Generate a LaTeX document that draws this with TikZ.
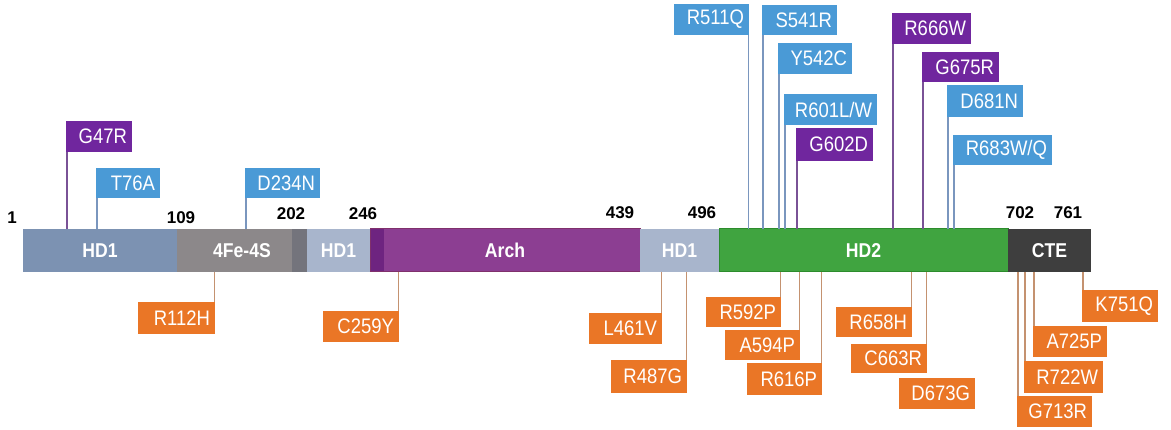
\documentclass[tikz,border=0pt]{standalone}
\usepackage{fontspec}
\setmainfont{Liberation Sans}
\newfontfamily\narrowsf{Liberation Sans}[FakeStretch=0.88]
\definecolor{hdone}{RGB}{124,146,178}
\definecolor{fegray}{RGB}{140,136,138}
\definecolor{fedark}{RGB}{116,116,124}
\definecolor{hdlight}{RGB}{168,181,204}
\definecolor{archc}{RGB}{140,62,146}
\definecolor{archdark}{RGB}{110,36,128}
\definecolor{archedge}{RGB}{128,48,108}
\definecolor{hdtwo}{RGB}{64,164,64}
\definecolor{hdtwoedge}{RGB}{44,140,44}
\definecolor{ctec}{RGB}{62,62,62}
\definecolor{mblue}{RGB}{74,154,214}
\definecolor{mpurple}{RGB}{112,38,158}
\definecolor{morange}{RGB}{234,118,38}
\definecolor{lblue}{RGB}{122,150,190}
\definecolor{lpurple}{RGB}{122,82,150}
\definecolor{lorange}{RGB}{196,146,112}
\newcommand\mutlab[7]{\node[#2,minimum width={#4-#3},minimum height={#6-#5},anchor=north west] (#1) at (#3,#5) {\makebox[\dimexpr #4pt-#3pt-10pt\relax][r]{#7}};}
\begin{document}
\begin{tikzpicture}[x=1pt,y=-1pt,
  seg/.style={anchor=north west, inner sep=0, outer sep=0, minimum height=43, text=white, font=\narrowsf\bfseries\fontsize{20}{22}\selectfont},
  num/.style={font=\bfseries\fontsize{17}{19}\selectfont, inner sep=0},
  mutbox/.style={inner sep=0, outer sep=0, text=white, font=\narrowsf\fontsize{21}{23}\selectfont},
  tb/.style={mutbox, fill=mblue},
  tp/.style={mutbox, fill=mpurple},
  bo/.style={mutbox, fill=morange},
  lb/.style={draw=lblue, line width=1.5},
  lp/.style={draw=lpurple, line width=1.5},
  lo/.style={draw=lorange, line width=1.5}]
\useasboundingbox (0,0) rectangle (1171,430);
\fill[white] (0,0) rectangle (1171,430);
% bar
\node[anchor=north west, inner sep=0, outer sep=0, minimum width=1068, minimum height=43] (bar) at (23,229) {};
\node[seg, fill=hdone, minimum width=154] (hd1a) at (23,229) {HD1};
\node[seg, fill=fegray, minimum width=130] (fes) at (177,229) {\phantom{4Fe-4S}};
\fill[fedark] (292,229) rectangle (307,272);
\node[seg, minimum width=130] (festext) at (177,229) {4Fe-4S};
\node[seg, fill=hdlight, minimum width=63] (hd1b) at (307,229) {HD1};
\node[seg, fill=archc, draw=archedge, line width=1, minimum width=270] (arch) at (370,229) {\phantom{Arch}};
\fill[archdark] (370.5,229.5) rectangle (384,271.5);
\node[seg, minimum width=270] (archtext) at (370,229) {Arch};
\node[seg, fill=hdlight, minimum width=79] (hd1c) at (640,229) {HD1};
\node[seg, fill=hdtwo, draw=hdtwoedge, line width=1, minimum width=289] (hd2) at (719,229) {HD2};
\node[seg, fill=ctec, minimum width=83] (cte) at (1008,229) {CTE};
% numbers
\node[num] (n1) at (12,217.5) {1};
\node[num] (n109) at (181,217.5) {109};
\node[num] (n202) at (291,213.5) {202};
\node[num] (n246) at (363,213.5) {246};
\node[num] (n439) at (620,213) {439};
\node[num] (n496) at (702,213) {496};
\node[num] (n702) at (1020,213) {702};
\node[num] (n761) at (1068,213) {761};
% top labels
\mutlab{g47r}{tp}{66}{132}{121}{152}{G47R}
\mutlab{t76a}{tb}{96}{160}{168}{198}{T76A}
\mutlab{d234n}{tb}{245}{320}{168}{198}{D234N}
\mutlab{r511q}{tb}{674}{749}{4}{35}{R511Q}
\mutlab{s541r}{tb}{762}{837}{5}{35}{S541R}
\mutlab{y542c}{tb}{778}{852}{43}{74}{Y542C}
\mutlab{r601lw}{tb}{784}{877}{94}{125}{R601L/W}
\mutlab{g602d}{tp}{796}{873}{128}{161}{G602D}
\mutlab{r666w}{tp}{892}{971}{13}{44}{R666W}
\mutlab{g675r}{tp}{922}{999}{52}{82}{G675R}
\mutlab{d681n}{tb}{947}{1023}{85}{117}{D681N}
\mutlab{r683wq}{tb}{953}{1052}{135}{165}{R683W/Q}
% bottom labels
\mutlab{r112h}{bo}{138}{215}{302}{334}{R112H}
\mutlab{c259y}{bo}{323}{399}{311}{342}{C259Y}
\mutlab{l461v}{bo}{589}{662}{313}{344}{L461V}
\mutlab{r487g}{bo}{611}{687}{360}{393}{R487G}
\mutlab{r592p}{bo}{706}{781}{297}{327}{R592P}
\mutlab{a594p}{bo}{725}{800}{330}{360}{A594P}
\mutlab{r616p}{bo}{747}{822}{363}{395}{R616P}
\mutlab{r658h}{bo}{836}{912}{307}{337}{R658H}
\mutlab{c663r}{bo}{851}{927}{344}{373}{C663R}
\mutlab{d673g}{bo}{899}{975}{378}{409}{D673G}
\mutlab{k751q}{bo}{1082}{1158}{290}{322}{K751Q}
\mutlab{a725p}{bo}{1033}{1107}{326}{357}{A725P}
\mutlab{r722w}{bo}{1024}{1103}{361}{393}{R722W}
\mutlab{g713r}{bo}{1017}{1092}{396}{427}{G713R}
% top connectors
\draw[lp] ([xshift=0.75]g47r.south west) -- ([xshift=0.75]g47r.south west |- bar.north);
\draw[lb] ([xshift=0.75]t76a.south west) -- ([xshift=0.75]t76a.south west |- bar.north);
\draw[lb] ([xshift=0.75]d234n.south west) -- ([xshift=0.75]d234n.south west |- bar.north);
\draw[lb] ([xshift=-0.75]r511q.south east) -- ([xshift=-0.75]r511q.south east |- bar.north);
\draw[lb] ([xshift=0.75]s541r.south west) -- ([xshift=0.75]s541r.south west |- bar.north);
\draw[lb] ([xshift=0.75]y542c.south west) -- ([xshift=0.75]y542c.south west |- bar.north);
\draw[lb] ([xshift=0.75]r601lw.south west) -- ([xshift=0.75]r601lw.south west |- bar.north);
\draw[lp] ([xshift=0.75]g602d.south west) -- ([xshift=0.75]g602d.south west |- bar.north);
\draw[lp] ([xshift=0.75]r666w.south west) -- ([xshift=0.75]r666w.south west |- bar.north);
\draw[lp] ([xshift=0.75]g675r.south west) -- ([xshift=0.75]g675r.south west |- bar.north);
\draw[lb] ([xshift=0.75]d681n.south west) -- ([xshift=0.75]d681n.south west |- bar.north);
\draw[lb] ([xshift=0.75]r683wq.south west) -- ([xshift=0.75]r683wq.south west |- bar.north);
% bottom connectors
\draw[lo] ([xshift=-0.75]r112h.north east) -- ([xshift=-0.75]r112h.north east |- bar.south);
\draw[lo] ([xshift=-0.75]c259y.north east) -- ([xshift=-0.75]c259y.north east |- bar.south);
\draw[lo] ([xshift=-0.75]l461v.north east) -- ([xshift=-0.75]l461v.north east |- bar.south);
\draw[lo] ([xshift=-0.75]r487g.north east) -- ([xshift=-0.75]r487g.north east |- bar.south);
\draw[lo] ([xshift=-0.75]r592p.north east) -- ([xshift=-0.75]r592p.north east |- bar.south);
\draw[lo] ([xshift=-0.75]a594p.north east) -- ([xshift=-0.75]a594p.north east |- bar.south);
\draw[lo] ([xshift=-0.75]r616p.north east) -- ([xshift=-0.75]r616p.north east |- bar.south);
\draw[lo] ([xshift=-0.75]r658h.north east) -- ([xshift=-0.75]r658h.north east |- bar.south);
\draw[lo] ([xshift=-0.75]c663r.north east) -- ([xshift=-0.75]c663r.north east |- bar.south);
\draw[lo] ([xshift=0.75]k751q.north west) -- ([xshift=0.75]k751q.north west |- bar.south);
\draw[lo] ([xshift=0.75]a725p.north west) -- ([xshift=0.75]a725p.north west |- bar.south);
\draw[lo] ([xshift=0.75]r722w.north west) -- ([xshift=0.75]r722w.north west |- bar.south);
\draw[lo] ([xshift=0.75]g713r.north west) -- ([xshift=0.75]g713r.north west |- bar.south);
\end{tikzpicture}
\end{document}
